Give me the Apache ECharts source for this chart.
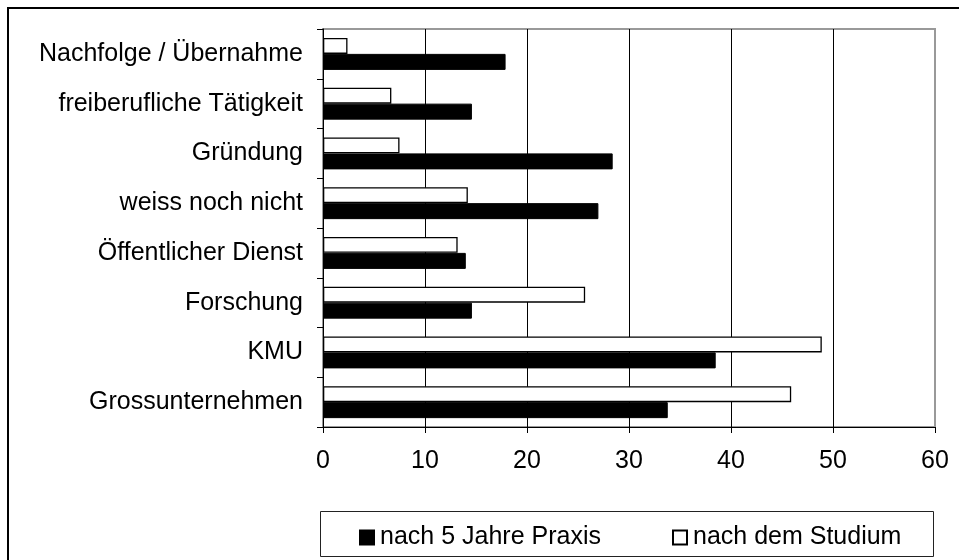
<!DOCTYPE html>
<html>
<head>
    <meta charset="UTF-8">
    <title>Berufsziele</title>
    <style>
        html, body {
            margin: 0;
            padding: 0;
            background: #fff;
        }

        #chart {
            width: 959px;
            height: 560px;
        }
    </style>
</head>
<body>
<div id="chart"></div>
<script src="https://cdn.jsdelivr.net/npm/echarts@6/dist/echarts.min.js"></script>
<script>
    // Kategorien von unten nach oben
    var categories = ['Grossunternehmen', 'KMU', 'Forschung', 'Öffentlicher Dienst',
        'weiss noch nicht', 'Gründung', 'freiberufliche Tätigkeit', 'Nachfolge / Übernahme'];
    var praxis = [33.8, 38.5, 14.6, 14.0, 27.0, 28.4, 14.6, 17.9];
    var studium = [45.9, 48.9, 25.7, 13.2, 14.2, 7.5, 6.7, 2.4];
    var xTicks = [0, 10, 20, 30, 40, 50, 60];

    var font = 'Liberation Sans, Arial, sans-serif';
    var chart = echarts.init(document.getElementById('chart'));

    chart.setOption({
        animation: false
        , textStyle: {fontFamily: font}
        , grid: {
            left: 323, right: 24, top: 29, bottom: 133,
            show: true, borderColor: '#999', borderWidth: 2, backgroundColor: '#fff'
        }
        , xAxis: {
            type: 'value'
            , min: xTicks[0]
            , max: xTicks[xTicks.length - 1]
            , interval: 10
            , axisLine: {show: true, lineStyle: {color: '#000', width: 1}}
            , axisTick: {show: true, length: 6, lineStyle: {color: '#000'}}
            , axisLabel: {color: '#000', fontSize: 25, margin: 22, fontFamily: font}
            , splitLine: {
                show: true,
                lineStyle: {color: ['#000', '#000', '#000', '#000', '#000', '#000', '#999'], width: 1}
            }
        }
        , yAxis: {
            type: 'category'
            , data: categories
            , axisLine: {show: true, lineStyle: {color: '#000', width: 1}}
            , axisTick: {show: true, length: 6, lineStyle: {color: '#000'}}
            , axisLabel: {color: '#000', fontSize: 25, margin: 20, fontFamily: font}
            , splitLine: {show: false}
        }
        , legend: [{
            data: ['nach 5 Jahre Praxis']
            , left: 354, top: 520
            , icon: 'rect', itemWidth: 14, itemHeight: 14, itemGap: 0
            , textStyle: {color: '#000', fontSize: 25, fontFamily: font, padding: [0, 0, 0, 1]}
            , selectedMode: false
        }, {
            data: ['nach dem Studium']
            , left: 667, top: 520
            , icon: 'rect', itemWidth: 14, itemHeight: 14, itemGap: 0
            , textStyle: {color: '#000', fontSize: 25, fontFamily: font, padding: [0, 0, 0, 1]}
            , selectedMode: false
        }]
        , series: [
            {
                name: 'nach dem Studium'
                , type: 'bar'
                , data: studium
                , barWidth: 16
                , barGap: '0%'
                , itemStyle: {color: '#fff', borderColor: '#000', borderWidth: 1.3}
            }
            , {
                name: 'nach 5 Jahre Praxis'
                , type: 'bar'
                , data: praxis
                , barWidth: 16
                , barGap: '0%'
                , itemStyle: {color: '#000', borderColor: '#000', borderWidth: 1}
            }
        ]
        , graphic: [
            {
                type: 'rect'
                , shape: {x: 8, y: 8, width: 960, height: 560}
                , style: {fill: null, stroke: '#000', lineWidth: 2}
                , silent: true
            }
            , {
                type: 'rect'
                , shape: {x: 320.5, y: 511.5, width: 613, height: 45}
                , style: {fill: null, stroke: '#222', lineWidth: 1}
                , silent: true
            }
        ]
    });
</script>
</body>
</html>
